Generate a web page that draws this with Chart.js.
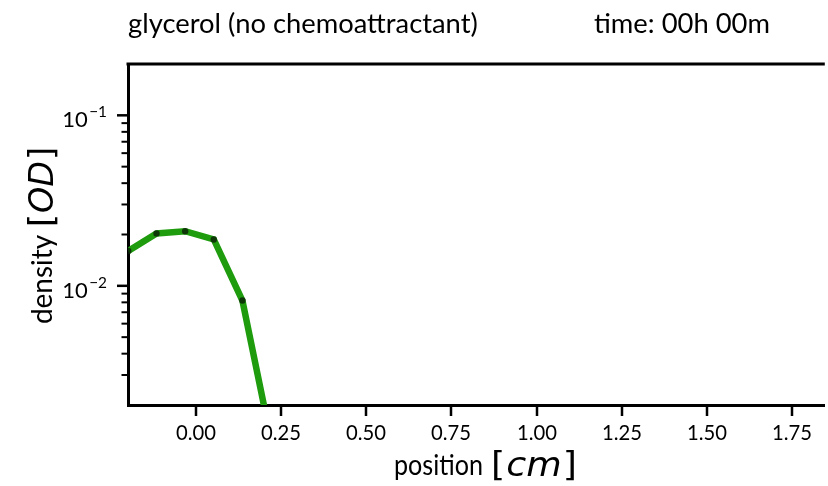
<!DOCTYPE html>
<html><head><meta charset="utf-8">
<script src="https://cdn.jsdelivr.net/npm/chart.js@4/dist/chart.umd.min.js"></script>
<style>html,body{margin:0;padding:0;background:#fff;overflow:hidden}</style>
</head><body>
<canvas id="c" width="828" height="486"></canvas>
<script>
// ---- data ----
const positions = [-0.198, -0.115, -0.031, 0.053, 0.137, 0.221];
const density   = [0.0160, 0.0203, 0.0209, 0.0187, 0.0082, 0.00125];
const xTickValues = [0, 0.25, 0.5, 0.75, 1.0, 1.25, 1.5, 1.75];
const yMajorTicks = [0.01, 0.1];
const yMajorLabels = [['10', '\u22122'], ['10', '\u22121']];
const yMinorTicks = [0.003, 0.004, 0.005, 0.006, 0.007, 0.008, 0.009,
                     0.02, 0.03, 0.04, 0.05, 0.06, 0.07, 0.08, 0.09];
const titleLeft = 'glycerol (no chemoattractant)';
const titleRight = 'time: 00h 00m';
const xLabel = ['position', 'cm'];
const yLabel = ['density', 'OD'];

const GREEN = '#1f9c0e';
const SANS = 'Lato, "Open Sans", sans-serif';
const MATH = '"DejaVu Sans"';

const mc = document.createElement('canvas').getContext('2d');
function fitSize(text, family, target, style) {
  mc.font = (style || '') + ' 100px ' + family;
  return 100 * target / mc.measureText(text).width;
}
function piecesWidth(ctx, pieces) {
  let w = 0;
  pieces.forEach(p => { ctx.font = p[1]; w += ctx.measureText(p[0]).width + (p[2] || 0); });
  return w;
}
function drawPieces(ctx, pieces, x, y, targetW) {
  const natural = piecesWidth(ctx, pieces);
  const sx = targetW / natural;
  ctx.save();
  ctx.translate(x, y);
  ctx.scale(sx, 1);
  let cx = 0;
  ctx.textAlign = 'left';
  ctx.textBaseline = 'alphabetic';
  pieces.forEach(p => { ctx.font = p[1]; ctx.fillText(p[0], cx, 0); cx += ctx.measureText(p[0]).width + (p[2] || 0); });
  ctx.restore();
}

const tickSize = fitSize('0.00', SANS, 40);
const titleSize = fitSize(titleLeft, SANS, 350);
const labelSize = 28;
const mathSize = 34;
const ytSize = 22;

const decor = {
  id: 'decor',
  afterDraw(chart) {
    const ctx = chart.ctx, a = chart.chartArea;
    const xs = chart.scales.x, ys = chart.scales.y;
    ctx.save();
    ctx.fillStyle = '#000';
    ctx.strokeStyle = '#000';
    // top spine
    ctx.lineWidth = 3;
    ctx.beginPath(); ctx.moveTo(a.left - 1.5, a.top); ctx.lineTo(a.right, a.top); ctx.stroke();
    // x ticks + labels
    ctx.lineWidth = 2.5;
    ctx.font = tickSize + 'px ' + SANS;
    ctx.textAlign = 'center';
    ctx.textBaseline = 'alphabetic';
    xTickValues.forEach(v => {
      const px = Math.round(xs.getPixelForValue(v));
      ctx.beginPath(); ctx.moveTo(px, a.bottom); ctx.lineTo(px, a.bottom + 11); ctx.stroke();
      ctx.fillText(v.toFixed(2), px, a.bottom + 34.5);
    });
    // y major ticks + labels
    yMajorTicks.forEach((v, i) => {
      const py = ys.getPixelForValue(v);
      ctx.lineWidth = 2.5;
      ctx.beginPath(); ctx.moveTo(a.left, py); ctx.lineTo(a.left - 11, py); ctx.stroke();
      const [base, sup] = yMajorLabels[i];
      ctx.font = (ytSize * 0.7) + 'px ' + SANS;
      const supW = ctx.measureText(sup).width;
      const xEnd = a.left - 21;
      ctx.textAlign = 'left';
      ctx.textBaseline = 'alphabetic';
      ctx.fillText(sup, xEnd - supW, py + 1.7);
      ctx.font = ytSize + 'px ' + SANS;
      const bw = ctx.measureText(base).width;
      ctx.fillText(base, xEnd - supW - 1.5 - bw, py + 11.7);
    });
    // y minor ticks
    ctx.lineWidth = 2;
    yMinorTicks.forEach(v => {
      const py = ys.getPixelForValue(v);
      ctx.beginPath(); ctx.moveTo(a.left, py); ctx.lineTo(a.left - 6.5, py); ctx.stroke();
    });
    // titles
    ctx.textBaseline = 'alphabetic';
    ctx.textAlign = 'left';
    ctx.font = titleSize + 'px ' + SANS;
    ctx.fillText(titleLeft, 128, 33);
    ctx.fillText(titleRight, 594, 33);
    // x axis label
    const lf = labelSize + 'px ' + SANS;
    const mf = mathSize + 'px ' + MATH;
    const mi = 'oblique ' + mathSize + 'px ' + MATH;
    drawPieces(ctx, [[xLabel[0], lf]], 394, 475, 89);
    drawPieces(ctx, [['[', mf, 1], [xLabel[1], mi, 1], [']', mf]], 491, 476, 86);
    // y axis label (rotated frame: x' = -y)
    ctx.save();
    ctx.translate(52, 0);
    ctx.rotate(-Math.PI / 2);
    drawPieces(ctx, [[yLabel[0], lf]], -324, 0, 89);
    drawPieces(ctx, [['[', mf, 1], [yLabel[1], mi, 1], [']', mf]], -227, 1, 80);
    ctx.restore();
    ctx.restore();
  }
};

new Chart(document.getElementById('c'), {
  type: 'line',
  data: {
    datasets: [{
      data: positions.map((x, i) => ({ x: x, y: density[i] })),
      borderColor: GREEN,
      borderWidth: 6.5,
      pointRadius: 3.2,
      pointHoverRadius: 3.2,
      pointBackgroundColor: 'rgba(10,30,8,0.8)',
      pointBorderWidth: 0,
      tension: 0,
      fill: false
    }]
  },
  options: {
    responsive: false,
    animation: false,
    devicePixelRatio: 1,
    layout: { padding: { top: 64, left: 0, right: 0, bottom: 0 } },
    plugins: { legend: { display: false }, tooltip: { enabled: false } },
    scales: {
      x: {
        type: 'linear', min: -0.1987, max: 1.8458,
        grid: { display: false, drawTicks: false },
        border: { display: true, color: '#000', width: 3 },
        afterBuildTicks: s => { s.ticks = xTickValues.map(v => ({ value: v })); },
        ticks: { display: false },
        afterFit: s => { s.height = 81; }
      },
      y: {
        type: 'logarithmic', min: 0.002, max: 0.2,
        grid: { display: false, drawTicks: false },
        border: { display: true, color: '#000', width: 3 },
        ticks: { display: false },
        afterFit: s => { s.width = 128; }
      }
    }
  },
  plugins: [decor]
});
</script>
</body></html>
